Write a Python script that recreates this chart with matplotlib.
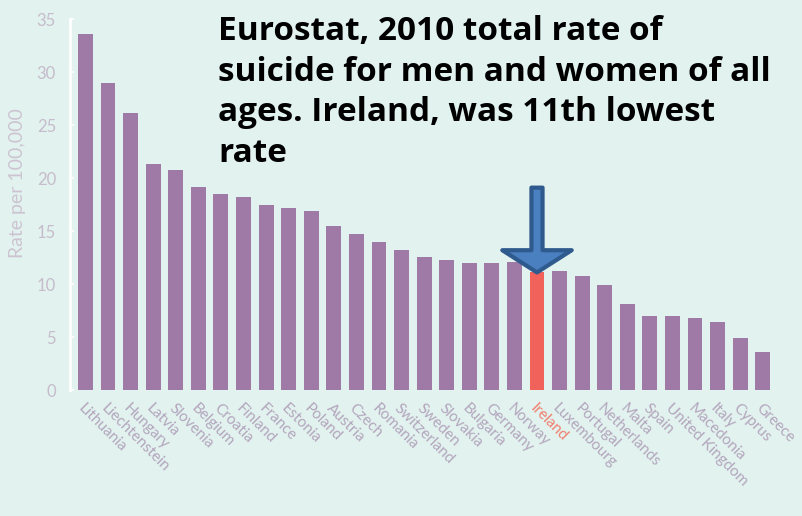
import matplotlib
matplotlib.use("Agg")
import matplotlib.pyplot as plt
import numpy as np

countries = ["Lithuania", "Liechtenstein", "Hungary", "Latvia", "Slovenia", "Belgium",
             "Croatia", "Finland", "France", "Estonia", "Poland", "Austria", "Czech",
             "Romania", "Switzerland", "Sweden", "Slovakia", "Bulgaria", "Germany",
             "Norway", "Ireland", "Luxembourg", "Portugal", "Netherlands", "Malta",
             "Spain", "United Kingdom", "Macedonia", "Italy", "Cyprus", "Greece"]
rates = [33.6, 29.0, 26.1, 21.3, 20.8, 19.2, 18.5, 18.2, 17.5, 17.2, 16.9, 15.5, 14.7,
         14.0, 13.2, 12.6, 12.3, 12.0, 12.0, 12.1, 11.1, 11.2, 10.8, 9.9, 8.1,
         7.0, 7.0, 6.8, 6.4, 4.9, 3.6]
highlight = "Ireland"
yticks = [0, 5, 10, 15, 20, 25, 30, 35]
title_text = ("Eurostat, 2010 total rate of\nsuicide for men and women of all\n"
              "ages. Ireland, was 11th lowest\nrate")

bg = "#e2f2ee"
purple = "#a07aa6"
red = "#f0625a"
label_col = "#b3a6be"

fig = plt.figure(figsize=(8.03, 5.16), dpi=100, facecolor=bg)
ax = fig.add_axes([0.087, 0.244, 0.884, 0.719], facecolor=bg)

x = np.arange(len(countries))
colors = [red if c == highlight else purple for c in countries]
ax.bar(x, rates, width=0.66, color=colors, zorder=2)

ax.set_xlim(-0.69, len(countries) - 0.25)
ax.set_ylim(0, 35)
ax.set_yticks(yticks)
ax.set_yticklabels([str(t) for t in yticks], fontsize=12, color="#c6bccc",
                   family="Lato")
ax.tick_params(axis="y", length=3, width=1.2, color="white", direction="in", pad=10)
ax.set_xticks(x)
ax.set_xticklabels(countries, rotation=-45, ha="left", va="top",
                   rotation_mode="anchor", fontsize=11, family="Lato")
for lbl, c in zip(ax.get_xticklabels(), countries):
    lbl.set_color("#f08070" if c == highlight else label_col)
ax.tick_params(axis="x", length=0, pad=8)
for s in ["top", "right", "bottom"]:
    ax.spines[s].set_visible(False)
ax.spines["left"].set_color("white")
ax.spines["left"].set_linewidth(2)
ax.set_ylabel("Rate per 100,000", fontsize=14, color="#cdc4d2", family="Lato")
ax.yaxis.set_label_coords(-0.062, 0.558)

# annotation arrow pointing at the highlighted bar
hi = countries.index(highlight)
ax.annotate("", xy=(hi, rates[hi]), xytext=(hi, rates[hi] + 8.0),
            arrowprops=dict(arrowstyle="simple,head_length=1.6,head_width=5.0,tail_width=0.8",
                            facecolor="#4a7fc0", edgecolor="#2f5a8e", linewidth=3,
                            shrinkA=0, shrinkB=0),
            zorder=5)

fig.text(0.272, 0.97, title_text, fontsize=24, fontweight="bold", family="Open Sans",
         color="black", va="top", ha="left", linespacing=1.3)

fig.savefig("out.png", dpi=100, facecolor=bg)
